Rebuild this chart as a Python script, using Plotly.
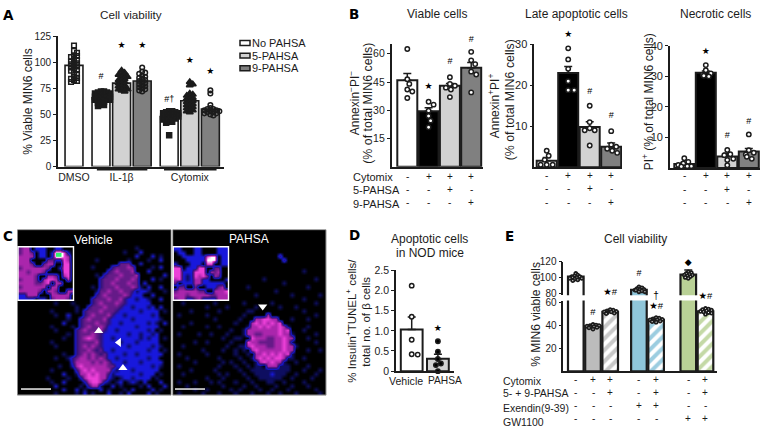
import plotly.graph_objects as go

W, H = 767, 443
FONT = "Liberation Sans, Arial, DejaVu Sans"
INK = "#1c1c1c"

# ---------- Panel A ----------
A_groups = ["DMSO", "IL-1β", "Cytomix"]
A_bars = [97, 66, 80, 82, 48, 63, 55]
A_colors = ["white", "white", "#d2d2d2", "#808080", "white", "#d2d2d2", "#808080"]
A_points = [
    [116, 111, 109, 106, 106, 105, 103, 102, 101, 100, 99, 98, 97, 96, 95, 94, 93, 92, 90, 88, 86, 85, 84, 83, 82, 81],
    [72, 72, 71, 71, 70, 70, 69, 69, 68, 68, 67, 67, 66, 66, 65, 65, 64, 64, 63, 62, 61, 60, 59, 58],
    [92, 90, 88, 88, 87, 86, 85, 84, 83, 82, 81, 80, 79, 78, 77, 76, 75, 74, 74, 73, 72],
    [95, 91, 90, 89, 87, 86, 85, 84, 83, 82, 81, 80, 79, 78, 77, 76, 75, 74, 73, 72],
    [53, 53, 52, 52, 51, 51, 50, 50, 49, 49, 48, 48, 47, 47, 46, 46, 45, 44, 43, 42, 30],
    [81, 79, 78, 70, 69, 68, 67, 66, 65, 64, 63, 62, 61, 60, 59, 58, 57, 56, 55, 54, 53, 52],
    [73, 70, 59, 56, 55, 55, 54, 54, 53, 53, 52, 52, 51, 51, 50, 49],
]
A_symbols = ["square-open", "square", "triangle-up", "circle-open", "square", "triangle-up", "circle-open"]
A_marks = ["", "#", "★", "★", "#†", "★", "★"]
A_mark_y = [0, 86, 116, 116, 64, 101, 90.5]
A_legend = ["No PAHSA", "5-PAHSA", "9-PAHSA"]
A_legend_colors = ["white", "#d2d2d2", "#808080"]

# ---------- Panel B ----------
B_colors = ["white", "black", "#d2d2d2", "#808080"]
B_rows = {"Cytomix": ["-", "+", "+", "+"], "5-PAHSA": ["-", "-", "+", "-"], "9-PAHSA": ["-", "-", "-", "+"]}

B1_bars = [46, 29.5, 43, 52.5]
B1_err = [3.5, 1.8, 1.2, 2.8]
B1_points = [[62.5, 46.5, 44, 41, 40, 36.5], [34.5, 33, 29.8, 27, 24.5, 21], [47.5, 44, 43, 42, 41, 37], [61, 56.5, 54.5, 50.5, 49, 39.5]]
B1_marks = ["", "★", "#", "#"]
B1_mark_y = [0, 42.4, 55.9, 67.4]

B2_bars = [1.6, 23, 9.8, 5]
B2_err = [0.8, 1.6, 1.3, 0.9]
B2_points = [[4, 2.8, 1.8, 0.6, 0.6, 0.6], [29, 26.3, 24, 21, 18.8, 18.8], [15, 11, 9.5, 9, 9, 5.3], [8.8, 5.5, 5, 4.5, 4, 3.5]]
B2_marks = ["", "★", "#", "#"]
B2_mark_y = [0, 32.2, 18.5, 12.6]

B3_bars = [1.3, 31.2, 3.8, 5.4]
B3_err = [0.5, 0.6, 1.0, 1.0]
B3_points = [[3.2, 2.0, 1.5, 1.0, 0.6, 0.6, 0.5], [33.7, 32, 31, 30.6, 30.2, 30], [5.9, 4.5, 4.2, 3, 2.6, 0.9], [11, 5.8, 5, 4.4, 3.7, 3]]
B3_marks = ["", "★", "#", "#"]
B3_mark_y = [0, 38.1, 10.6, 15.1]

# ---------- Panel D ----------
D_cats = ["Vehicle", "PAHSA"]
D_bars = [1.03, 0.31]
D_err = [0.31, 0.11]
D_colors = ["white", "#d2d2d2"]
D_points = [[2.12, 1.35, 0.78, 0.42, 0.41], [0.74, 0.48, 0.3, 0.19, 0.15, 0.0]]
D_marks = ["", "★"]
D_mark_y = [0, 1.05]

# ---------- Panel E ----------
E_bars = [101, 39.5, 52, 84.5, 45, 103.5, 52.5]
E_err = [1.5, 0.8, 0.8, 1.5, 0.8, 6, 1]
E_colors = ["white", "#bcbcbc", "#c8c8c8", "#8fc6da", "#9ccde0", "#b9d196", "#c4d9a6"]
E_hatch = ["", "", "/", "", "/", "", "/"]
E_points = [
    [105, 103, 102, 101, 101, 100, 100, 99, 99, 98, 97, 96],
    [41, 40.5, 40, 40, 39.5, 39, 39, 38.5, 38, 37],
    [54, 53.5, 53, 52.5, 52, 52, 51.5, 51, 50.5],
    [88, 87, 86, 85, 85, 84, 84, 83, 82, 82],
    [47, 46.5, 46, 45.5, 45, 45, 44.5, 44, 43.5, 43],
    [107, 106, 105, 104, 103, 103, 102, 101, 100, 99],
    [55, 54.5, 54, 53.5, 53, 52.5, 52, 51.5, 51, 50],
]
E_marks_low = ["", "#", "★#", "", "★#", "", "★#"]
E_mark_low_y = [0, 51.5, 68.8, 0, 56.3, 0, 65.7]
E_dagger_y = 65.7
E_marks_up = ["", "", "", "#", "", "◆", ""]
E_mark_up_y = [0, 0, 0, 104.7, 0, 118, 0]
E_rows = {
    "Cytomix": ["-", "+", "+", "-", "+", "-", "+"],
    "5- + 9-PAHSA": ["-", "-", "+", "-", "+", "-", "+"],
    "Exendin(9-39)": ["-", "-", "-", "+", "+", "-", "-"],
    "GW1100": ["-", "-", "-", "-", "-", "+", "+"],
}

# ---------- Panel C: coarse micrograph intensities (0 black ... 6 pink, 7 white, 8 green) ----------
C_vehicle = """
00000000000000000000000000000000000000
00000000000000000000000000000000000000
00000000000000000000000000000000000000
00000000000000000000000000000000000000
00000000000000000000000000000100000000
00000000000000000000000000100020000000
00000000000000000000000000000200020100
00000000000000000001000000010000100200
00000000000000000000000004440020000000
00000000000000000010000344454000010200
00000000000000000000003454445000200000
00000000000000000001034445444500000020
00000000000000000000344454445400020100
00000000000000000000344544454402000000
00000000000000000010344454445410200200
00000000000000000001445445443122100010
00000000000000000003454444542220020000
00000000000000000034445445322122100200
00000000010001000034544454322222200000
00000000000000100344454443221222120200
00000000100000103444544432222212222010
00000000010020003454445322122222212000
00000000000010034544453222221222222100
00000000000200034445443221222222121020
00000000100001034544542222222122222000
00000000010000345444532212222222120100
00000000000010344454322222212212212000
00000000000100345654322122222212122010
00000000100000344445322221222122222000
00000000010000345454322222212222212100
00000000000000344543422122222222122010
00000000000100345454342222122122222200
00000000010013455454542212222222122000
00000000000003555545454222122212222200
00000000001002565555554422222222212100
00000000100000356565555212221222222000
00000000000200155656553122222212220100
00000001000010025666552101221222201000
00000000100200002566521012012102000200
00000000020000010355100201000010200020
00000000000200201000201000102000020100
00000000010000102010002001020000201000
""".split()

C_pahsa = """
00000000000000000000000000000000000000
00000000000000000000000000000000000000
00000000000000000000000000000000000000
00000000000000000000000000000000000000
00000000000000000000000000000000000000
00000000000000000000000000000000000000
00000000000000000000000000300000000000
00000000000000000000000000030000000000
00000000000000000000000000000000000000
00000000000000000000000000000000000000
00000000000000000000000000000000100000
00000000000000000000000000000000000000
00000000000000000000001000000000000100
00000000000000000000000000010000000000
00000000000000000010000000000000010000
00000000000000000000000001000000000000
00000000000000000000100000000100000010
00000000000000000000000000000000100000
00100000001000000100000010000000000100
00000000100001000000100000100010000000
00001000000100000011000000000000100000
01000000100000000100000500000000000100
00000000001000001000556655000100010000
00001000000000010005656565600000000000
00100000100100000015565655651000010000
00000000000000100155555555656000100000
01000010010001000155445555655100000100
00000000000010011006555445565500010000
00000100100000100065544445565100000100
00100000000001001156555445565510000000
00000001000010010105655555565500010010
01000000100000010010556565656100000000
00010000000100001001565656651100100000
00000100000010100100156565510010000000
01000000000100010010110555111000010000
00001000001000001001111111111000100010
00100000000101000100111121110010000100
00000000100010000010011111100100001000
01000100010100010001000110010000100000
00010000000010000100100001000100010000
00000100100000101000010010001000000100
01000001000100010001000100100010000010
""".split()

C_inset_vehicle = """
45502220022000
45540220288620
55550220288650
55500004422650
55540045500660
45555554002660
55455540000660
55554005540560
45554056650050
55554456055000
45555550550000
55555405540055
22555000555550
22220220455540
""".split()

C_inset_pahsa = """
22000220000222
02200220000222
00222222677022
00022222777022
20002220660022
66022266004400
66222666054500
66212656405400
56212552200002
40222552222220
04400400222450
45555544005556
55545555544555
45522452222555
""".split()

C_colorscale = [[0, "#000000"], [1/8, "#0e0e60"], [2/8, "#1818dc"], [3/8, "#30127a"], [4/8, "#651a88"],
                [5/8, "#aa26ac"], [6/8, "#ec40d8"], [7/8, "#ffffff"], [1, "#30f070"]]
C_arrows_vehicle = dict(col=[19.6, 24.6, 25.6], row=[25.2, 28.1, 34.6], symbol=["triangle-up", "triangle-left", "triangle-up"])
C_arrows_pahsa = dict(col=[21.8], row=[19.0], symbol=["triangle-down"])


# ---------- helpers ----------
layout = dict(width=W, height=H, margin=dict(l=0, r=0, t=0, b=0), paper_bgcolor="white", plot_bgcolor="rgba(0,0,0,0)",
              showlegend=False, barmode="overlay", font=dict(family=FONT, color=INK, size=11),
              annotations=[], shapes=[], hovermode=False)
fig = go.Figure()
naxes = [0]


def axes(xpx, ypx, xr, yr, ytickvals=None, xtickvals=None, xticktext=None, visible=True, xline=True, yfs=10.5, xlw=1.8):
    """Create an axis pair from a pixel box (top-left origin); returns trace refs."""
    naxes[0] += 1
    n = naxes[0]
    s = "" if n == 1 else str(n)
    xa = dict(domain=[xpx[0] / W, xpx[1] / W], range=xr, anchor="y" + s, showgrid=False, zeroline=False,
              fixedrange=True, ticks="", showticklabels=False, showline=False)
    ya = dict(domain=[1 - ypx[1] / H, 1 - ypx[0] / H], range=yr, anchor="x" + s, showgrid=False, zeroline=False,
              fixedrange=True, ticks="", showticklabels=False, showline=False)
    if visible:
        ya.update(showline=True, linewidth=1.6, linecolor=INK, ticks="outside", ticklen=3, tickwidth=1.4, tickcolor=INK,
                  showticklabels=True, tickvals=ytickvals, tickfont=dict(size=yfs, family=FONT, color=INK))
        if xline:
            xa.update(showline=True, linewidth=xlw, linecolor=INK)
        if xtickvals is not None:
            xa.update(showticklabels=True, tickvals=xtickvals, ticktext=xticktext, tickangle=0,
                      tickfont=dict(size=10.5, family=FONT, color=INK), ticklen=0, ticks="")
    layout["xaxis" + s] = xa
    layout["yaxis" + s] = ya
    return "x" + s, "y" + s


def mark_axes(xpx, ypx, xr, yr, extra_px):
    """Invisible twin that reaches above the visible axis, for marks drawn over its top end."""
    ppy = (ypx[1] - ypx[0]) / (yr[1] - yr[0])
    return axes(xpx, (ypx[0] - extra_px, ypx[1]), xr, [yr[0], yr[1] + extra_px / ppy], visible=False)


def text(px, py, t, size=11, angle=0, anchor="center", color=INK, family=FONT):
    layout["annotations"].append(dict(text=t, x=px / W, y=1 - py / H, xref="paper", yref="paper", showarrow=False,
                                      xanchor=anchor, yanchor="middle", textangle=angle,
                                      font=dict(size=size, color=color, family=family)))


def tag(px, py, t):
    text(px, py, f"<b>{t}</b>", size=13.5, anchor="left", color="black", family="DejaVu Sans")


def swarm(vals, px_per_y, d, maxoff, step=1.0):
    """Beeswarm x offsets in pixels, derived from the values."""
    order = sorted(range(len(vals)), key=lambda i: -vals[i])
    placed, out = [], [0.0] * len(vals)
    cand = [((k + 1) // 2) * step * (1 if k % 2 else -1) for k in range(int(2 * maxoff / step) + 1)]
    for n, i in enumerate(order):
        best = None
        for off in cand:
            if all((off - o) ** 2 + ((vals[i] - v) * px_per_y) ** 2 >= d ** 2 for o, v in placed):
                best = off
                break
        if best is None:
            best = cand[n % len(cand)]
        placed.append((best, vals[i]))
        out[i] = best
    return out


def bars(xa, ya, x, v, colors, width, err=None, lw=1.7, pattern=None):
    mk = dict(color=colors, line=dict(color=INK, width=lw))
    if pattern:
        mk["pattern"] = pattern
    tr = dict(x=x, y=v, width=width, marker=mk, xaxis=xa, yaxis=ya, hoverinfo="skip", showlegend=False)
    if err:
        tr["error_y"] = dict(type="data", array=err, arrayminus=[0] * len(err), symmetric=False,
                             thickness=1.5, width=4, color=INK)
    fig.add_trace(go.Bar(**tr))


def points(xa, ya, x, groups, px_per_y, px_per_x, d, maxoff, symbols, size, lw=1.4, colors=None, line=None):
    for i, vals in enumerate(groups):
        offs = swarm(vals, px_per_y, d, maxoff)
        sym = symbols[i] if isinstance(symbols, list) else symbols
        col = (colors[i] if isinstance(colors, list) else colors) or INK
        sz = size[i] if isinstance(size, list) else size
        mk = dict(symbol=sym, size=sz, color=col, line=dict(width=lw, color=line or INK))
        fig.add_trace(go.Scatter(x=[x[i] + o / px_per_x for o in offs], y=vals, mode="markers", marker=mk,
                                 xaxis=xa, yaxis=ya, cliponaxis=False, hoverinfo="skip", showlegend=False))


def marks(xa, ya, x, labels, ys, size=9):
    xs = [a for a, l in zip(x, labels) if l]
    yy = [b for b, l in zip(ys, labels) if l]
    tt = [l for l in labels if l]
    fig.add_trace(go.Scatter(x=xs, y=yy, text=tt, mode="text", textposition="middle center", cliponaxis=False,
                             textfont=dict(size=size, color="black", family="Liberation Sans, DejaVu Sans"),
                             xaxis=xa, yaxis=ya, hoverinfo="skip", showlegend=False))


def sign_rows(xa, x, rows, ypx):
    for (name, signs), py in zip(rows.items(), ypx):
        for a, sg in zip(x, signs):
            layout["annotations"].append(dict(text=sg, x=a, y=1 - py / H, xref=xa, yref="paper", showarrow=False,
                                              xanchor="center", yanchor="middle", font=dict(size=10, color=INK, family=FONT)))


def micrograph(xpx, ypx, rows, ncol):
    xa, ya = axes(xpx, ypx, [-0.5, ncol - 0.5], [len(rows) - 0.5, -0.5], visible=False)
    z = [[int(c) for c in r.ljust(ncol, "0")[:ncol]] for r in rows]
    fig.add_trace(go.Heatmap(z=z, zmin=0, zmax=8, colorscale=C_colorscale, showscale=False, zsmooth="best",
                             xaxis=xa, yaxis=ya, hoverinfo="skip"))
    return xa, ya


# ---------- Panel C ----------
vx, vy = micrograph((17.5, 171), (230, 400), C_vehicle, 38)
px_, py_ = micrograph((172.8, 326), (230, 400), C_pahsa, 38)
micrograph((18, 73.5), (247.5, 302.5), C_inset_vehicle, 14)
micrograph((173.2, 228.5), (247.5, 302.5), C_inset_pahsa, 14)
for x0, x1 in ((17.5, 171), (172.8, 326)):
    layout["shapes"].append(dict(type="rect", xref="paper", yref="paper", x0=x0 / W, x1=x1 / W, y0=1 - 400 / H, y1=1 - 230 / H,
                                 line=dict(color="#777777", width=0.8)))
for x0, x1 in ((18, 73.5), (173.2, 228.5)):
    layout["shapes"].append(dict(type="rect", xref="paper", yref="paper", x0=x0 / W, x1=x1 / W, y0=1 - 302.5 / H, y1=1 - 247.5 / H,
                                 line=dict(color="white", width=1.4)))
for x0, x1 in ((21, 51), (175, 205)):
    layout["shapes"].append(dict(type="line", xref="paper", yref="paper", x0=x0 / W, x1=x1 / W, y0=1 - 393.7 / H, y1=1 - 393.7 / H,
                                 line=dict(color="white", width=1.4)))
for (a, b), arr in (((vx, vy), C_arrows_vehicle), ((px_, py_), C_arrows_pahsa)):
    fig.add_trace(go.Scatter(x=arr["col"], y=arr["row"], mode="markers", xaxis=a, yaxis=b, hoverinfo="skip",
                             marker=dict(symbol=arr["symbol"], size=8, color="white"), showlegend=False))
text(93, 240.5, "Vehicle", size=12, color="white")
text(249, 239.5, "PAHSA", size=12, color="white")
tag(1, 236, "C")

# ---------- Panel A ----------
step_a = 20.6
A_x, pos = [], 0.0
for g, gap in zip([1, 3, 3], [0, 0.31, 0.31]):
    pos += gap
    for _ in range(g):
        A_x.append(pos)
        pos += 1
xa, ya = axes((58, 224), (31, 165), [(58 - 74) / step_a, (224 - 74) / step_a], [0, 125],
              ytickvals=[0, 25, 50, 75, 100, 125],
              xtickvals=[A_x[0], A_x[2], A_x[5]], xticktext=A_groups, yfs=10)
bars(xa, ya, A_x, A_bars, A_colors, 0.87, lw=1.6)
points(xa, ya, A_x, A_points, 134 / 125, step_a, 3.0, 8.5, A_symbols, [4.6, 5, 6, 4.6, 5, 6, 4.6], lw=1.5)
marks(xa, ya, A_x, A_marks, A_mark_y)
for a, b in ((A_x[1] - 0.2, A_x[3] + 0.25), (A_x[4] - 0.25, A_x[6] + 0.3)):
    layout["shapes"].append(dict(type="line", xref=xa, yref="paper", x0=a, x1=b, y0=1 - 168.3 / H, y1=1 - 168.3 / H,
                                 line=dict(color=INK, width=1.4)))
text(28.5, 98, "% Viable MIN6 cells", size=12, angle=-90)
text(130.5, 9, "Cell viability", size=11.7)
tag(1, 9, "A")
for i, (name, col) in enumerate(zip(A_legend, A_legend_colors)):
    py = 38 + 13 * i
    layout["shapes"].append(dict(type="rect", xref="paper", yref="paper", x0=240 / W, x1=250 / W, y0=1 - (py + 2.5) / H, y1=1 - (py - 2.5) / H,
                                 fillcolor=col, line=dict(color=INK, width=1.5)))
    text(250, py, name, size=11, anchor="left")

# ---------- Panel B ----------
for xpx, ypx, yr, ticks, data, bw, c0, pitch, rowy, title, tx, yfs, extra in [
    ((391.7, 483), (39, 165.3), [0, 65.2], [15, 30, 45, 60], (B1_bars, B1_err, B1_points, B1_marks, B1_mark_y), 20, 407.3, 21.3, (175, 188.5, 202), "Viable cells", 436.7, 10.5, 12),
    ((534.3, 622), (39.3, 165.7), [0, 30], [10, 20, 30], (B2_bars, B2_err, B2_points, B2_marks, B2_mark_y), 20, 546.7, 21.5, (174, 188, 201.7), "Late apoptotic cells", 576.7, 11, 12),
    ((670, 760), (41, 166.5), [0, 40], [10, 20, 30, 40], (B3_bars, B3_err, B3_points, B3_marks, B3_mark_y), 20, 684.3, 21.5, (174.5, 188.5, 202), "Necrotic cells", 715.7, 11, 12),
]:
    bx = [0, 1, 2, 3]
    xr = [(xpx[0] - c0) / pitch, (xpx[1] - c0) / pitch]
    xa, ya = axes(xpx, ypx, xr, yr, ytickvals=ticks, yfs=yfs)
    v, e, p, m, my = data
    bars(xa, ya, bx, v, B_colors, bw / pitch, err=e, lw=2)
    points(xa, ya, bx, p, (ypx[1] - ypx[0]) / yr[1], pitch, 5.2, 7, "circle", 4.4, lw=1.5, colors="white")
    xm, ym = mark_axes(xpx, ypx, xr, yr, extra)
    marks(xm, ym, bx, m, my)
    sign_rows(xa, bx, B_rows, rowy)
    text(tx, 8.5, title, size=12)
tag(347, 8, "B")
text(354, 100, "Annexin<sup>−</sup>PI<sup>−</sup>", size=12, angle=-90)
text(368.5, 100, "(% of total MIN6 cells)", size=12.4, angle=-90)
text(494, 102, "Annexin<sup>+</sup>PI<sup>+</sup>", size=12, angle=-90)
text(510, 97, "(% of total MIN6 cells)", size=12.4, angle=-90)
text(648, 99, "PI<sup>+</sup> (% of total MIN6 cells)", size=12, angle=-90)
for name, py in zip(B_rows, (176, 189.5, 203.5)):
    text(351, py, name, size=11, anchor="left")

# ---------- Panel D ----------
pitch = 26.2
D_x = [0, 1]
xa, ya = axes((396, 454), (271.7, 375.3), [(396 - 411.7) / pitch, (454 - 411.7) / pitch], [0, 2.5],
              ytickvals=[0, 0.5, 1, 1.5, 2, 2.5])
layout[ya.replace("y", "yaxis")]["ticktext"] = ["0", "0.5", "1.0", "1.5", "2.0", "2.5"]
bars(xa, ya, D_x, D_bars, D_colors, 21.8 / pitch, err=D_err, lw=2)
points(xa, ya, D_x, D_points, 103.6 / 2.5, pitch, 5.2, 7, "circle", 4.4, lw=1.5, colors=["white", "black"])
marks(xa, ya, D_x, D_marks, D_mark_y)
text(406.3, 385, D_cats[0], size=10.6)
text(444.7, 385, D_cats[1], size=10.2)
tag(347, 235.5, "D")
text(429.5, 240, "Apoptotic cells", size=12)
text(429.5, 254, "in NOD mice", size=12)
text(351.5, 324, "% Insulin<sup>+</sup>TUNEL<sup>+</sup> cells/", size=11.5, angle=-90)
text(366.5, 325, "total no. of β cells", size=11.5, angle=-90)

# ---------- Panel E ----------
pitch = 17.2
E_x, pos = [], 0.0
for g, gap in zip([3, 2, 2], [0, 0.67, 0.87]):
    pos += gap
    for _ in range(g):
        E_x.append(pos)
        pos += 1
xr = [(563.3 - 575.8) / pitch, (716.5 - 575.8) / pitch]
# lower part of the broken axis, then upper part
xl, yl = axes((563.3, 716.5), (302.7, 375.5), xr, [0, 62], ytickvals=[20, 40, 60], yfs=10, xlw=2.2)
xu, yu = axes((563.3, 716.5), (262.7, 297.3), xr, [77.6, 120], ytickvals=[80, 100, 120], xline=False, yfs=10)
for a, b in ((xl, yl), (xu, yu)):
    for i in range(len(E_x)):
        pat = dict(shape="/", fgcolor=E_colors[i], bgcolor="white", fillmode="replace", size=8, solidity=0.5, fgopacity=1) if E_hatch[i] else None
        bars(a, b, [E_x[i]], [E_bars[i]], [E_colors[i]], 15.6 / pitch, err=[E_err[i]], lw=2.2, pattern=pat)
for a, b, ppy, keep in ((xl, yl, 1.175, [1, 2, 4, 6]), (xu, yu, 0.82, [0, 3, 5])):
    sel_x = [E_x[i] for i in keep]
    sel_p = [E_points[i] for i in keep]
    points(a, b, sel_x, sel_p, ppy, pitch, 2.4, 6, "circle", 3, lw=1.8, colors="white")
xm, ym = mark_axes((563.3, 716.5), (302.7, 375.5), xr, [0, 62], 16)
marks(xm, ym, E_x, E_marks_low, E_mark_low_y, size=9.5)
marks(xm, ym, [E_x[4]], ["†"], [E_dagger_y], size=10)
marks(xu, yu, E_x, E_marks_up, E_mark_up_y, size=9)
sign_rows(xl, E_x, E_rows, (384, 397.7, 411, 424.3))
for name, py in zip(E_rows, (385, 398, 412.7, 427.3)):
    text(500.7, py, name, size=10.5, anchor="left")
tag(503, 236, "E")
text(635, 240, "Cell viability", size=12)
text(535.7, 316.7, "% MIN6 viable cells", size=12, angle=-90)

fig.update_layout(**layout)
fig.write_html("out.html", post_script="document.body.style.margin='0';", config=dict(displayModeBar=False))
